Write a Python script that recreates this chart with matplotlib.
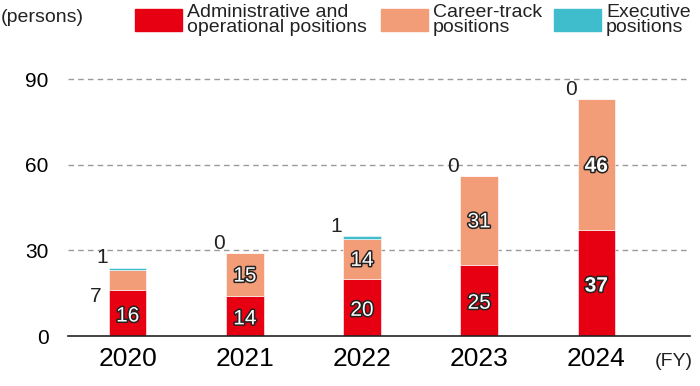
import matplotlib.pyplot as plt
import matplotlib.patheffects as pe
from matplotlib.patches import Rectangle

plt.rcParams['font.family'] = ['Liberation Sans', 'DejaVu Sans']

years = ["2020", "2021", "2022", "2023", "2024"]
admin = [16, 14, 20, 25, 37]
career = [7, 15, 14, 31, 46]
executive = [1, 0, 1, 0, 0]

RED = "#E60012"
SALMON = "#F39C78"
TEAL = "#40BDCC"

fig = plt.figure(figsize=(7, 3.86), dpi=100)
ax = fig.add_axes([68 / 700, 50 / 386, 622 / 700, 271 / 386])

x = list(range(len(years)))
w = 0.32
bottom2 = [a + c for a, c in zip(admin, career)]
ax.bar(x, admin, w, color=RED, edgecolor="white", linewidth=0.4, zorder=3)
ax.bar(x, career, w, bottom=admin, color=SALMON, edgecolor="white", linewidth=0.4, zorder=3)
ax.bar(x, executive, w, bottom=bottom2, color=TEAL, edgecolor="white", linewidth=0.4, zorder=3)

ax.set_xlim(-0.51, 4.80)
ax.set_ylim(0, 95)
ax.set_yticks([0, 30, 60, 90])
ax.set_xticks(x)
ax.set_xticklabels(years, fontsize=19)
ax.tick_params(axis="y", length=0, labelsize=15, pad=14)
ax.tick_params(axis="x", length=0, pad=8)
for s in ["top", "right", "left"]:
    ax.spines[s].set_visible(False)
ax.spines["bottom"].set_color("#222222")
ax.spines["bottom"].set_linewidth(1.2)
ax.spines["bottom"].set_zorder(4)
for v in [30, 60, 90]:
    ax.axhline(v, color="#9a9a9a", lw=1, ls=(0, (4, 3)), zorder=1)

outline = [pe.withStroke(linewidth=2.2, foreground="#222222")]
for i in range(len(years)):
    bold = "bold" if i == len(years) - 1 else "normal"
    ax.text(i, admin[i] / 2 - 1, str(admin[i]), ha="center", va="center", fontsize=15,
            color="white", fontweight=bold, path_effects=outline, zorder=5)
    top = admin[i] + career[i] + executive[i]
    if career[i] >= 10:
        ax.text(i, admin[i] + career[i] / 2 - 0.5, str(career[i]), ha="center", va="center",
                fontsize=15, color="white", fontweight=bold, path_effects=outline, zorder=5)
    else:
        # small segment: label sits to the left of the bar
        ax.text(i - 0.27, admin[i] - 2, str(career[i]), ha="center", va="center",
                fontsize=15, color="#222222", zorder=5)
    ax.text(i - 0.22, top + 3.5, str(executive[i]), ha="center", va="center",
            fontsize=15, color="#222222", zorder=5)

fig.text(1 / 700, 1 - 17 / 386, "(persons)", fontsize=14, ha="left", va="center", color="#222222")
fig.text(655 / 700, 1 - 362 / 386, "(FY)", fontsize=14, ha="left", va="center", color="#222222")

legend = [(RED, "Administrative and\noperational positions", 135, 187),
          (SALMON, "Career-track\npositions", 381, 433),
          (TEAL, "Executive\npositions", 554, 606)]
for color, label, bx, tx in legend:
    fig.patches.append(Rectangle((bx / 700, 1 - 31 / 386), 47 / 700, 22 / 386,
                                 transform=fig.transFigure, color=color))
    fig.text(tx / 700, 1 - 20 / 386, label, fontsize=14, ha="left", va="center",
             color="#222222", linespacing=0.88)

fig.savefig("out.png", dpi=100)
